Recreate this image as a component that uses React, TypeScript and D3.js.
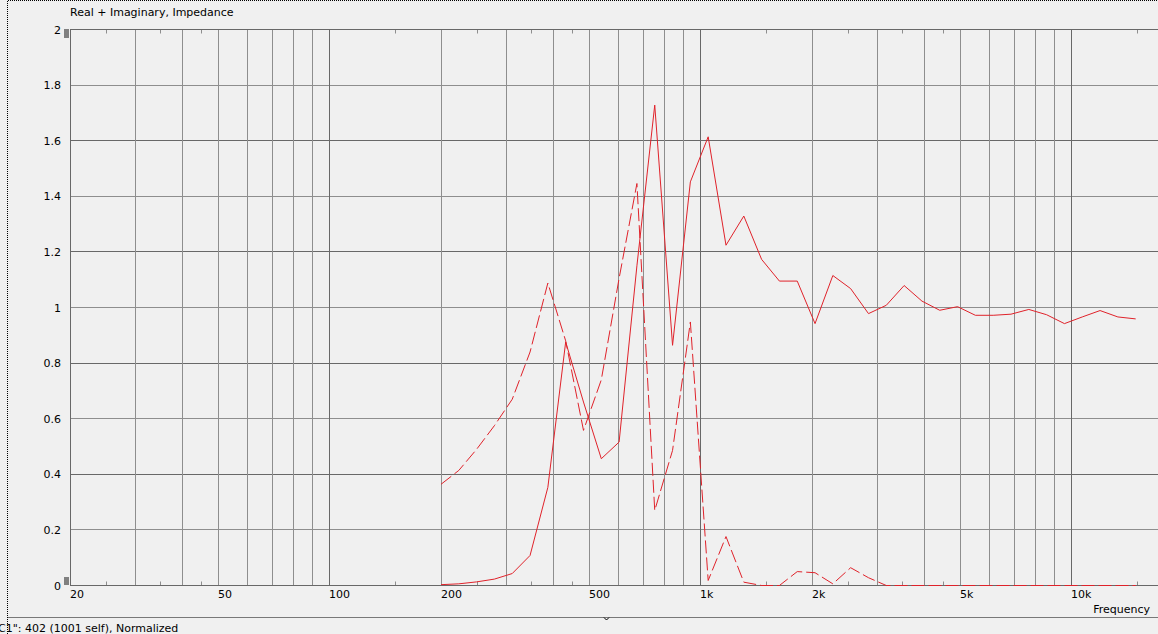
import React from "react";
import * as d3 from "d3";

const FREQS = [
  200, 223.4, 249.5, 278.6, 311.2, 347.6, 388.2, 433.6, 484.3, 540.9,
  604.1, 674.7, 753.6, 841.7, 940.1, 1050, 1172.7, 1309.8, 1462.9, 1633.9,
  1824.9, 2038, 2276, 2542, 2840, 3172, 3543, 3957, 4419, 4936,
  5513, 6157, 6877, 7681, 8579, 9582, 10702, 11953, 13350, 14910,
];

// Real part (solid line)
const REAL = [
  0.003, 0.006, 0.013, 0.023, 0.043, 0.108, 0.353, 0.876, 0.66, 0.456,
  0.516, 1.15, 1.728, 0.864, 1.452, 1.614, 1.224, 1.329, 1.173, 1.095,
  1.095, 0.942, 1.115, 1.068, 0.978, 1.008, 1.079, 1.023, 0.99, 1.003,
  0.972, 0.972, 0.976, 0.993, 0.974, 0.942, 0.966, 0.989, 0.966, 0.959,
];

// Imaginary part (dashed line)
const IMAG = [
  0.364, 0.414, 0.49, 0.575, 0.67, 0.84, 1.088, 0.88, 0.558, 0.74,
  1.105, 1.446, 0.27, 0.486, 0.948, 0.018, 0.176, 0.012, 0, 0,
  0.05, 0.046, 0.006, 0.064, 0.028, 0, 0, 0, 0, 0,
  0, 0, 0, 0, 0, 0, 0, 0, 0, 0,
];

const X_LABELS: [number, string][] = [
  [20, "20"], [50, "50"], [100, "100"], [200, "200"], [500, "500"],
  [1000, "1k"], [2000, "2k"], [5000, "5k"], [10000, "10k"],
];
const Y_TICKS = [0, 0.2, 0.4, 0.6, 0.8, 1, 1.2, 1.4, 1.6, 1.8, 2];
const TITLE = "Real + Imaginary, Impedance";
const X_TITLE = "Frequency";
const STATUS = 'C1": 402 (1001 self), Normalized';

const W = 1158;
const H = 634;
const FONT = "'DejaVu Sans', Verdana, sans-serif";
const RED = "#e0222a";
const DARK = "#686868";
const LIGHT = "#8e8e8e";

export default function App() {
  const x = d3.scaleLog().domain([20, 20000]).range([70, 1183]);
  const y = d3.scaleLinear().domain([0, 2]).range([585.5, 29.5]);
  const px = (f: number) => Math.round(x(f)) + 0.5;

  const gridFreqs: number[] = [];
  [10, 100, 1000, 10000].forEach((dec) => {
    for (let m = 1; m <= 9; m++) {
      const f = dec * m;
      if (f > 20 && f <= 20000) gridFreqs.push(f);
    }
  });
  const minorFreqs: number[] = [];
  [10, 100, 1000, 10000].forEach((dec) => {
    [1.5, 2.5, 3.5, 4.5].forEach((m) => {
      const f = dec * m;
      if (f > 20 && f < 20000) minorFreqs.push(f);
    });
  });

  const line = d3
    .line<number>()
    .x((_, i) => x(FREQS[i]))
    .y((d) => y(d));

  const y0 = y(0);
  const y2 = y(2);

  return (
    <svg
      width={W}
      height={H}
      style={{ position: "absolute", left: 0, top: 0, background: "#f0f0f0" }}
      fontFamily={FONT}
    >
      <rect x={0} y={0} width={W} height={H} fill="#f0f0f0" />
      {/* dotted frame */}
      <path
        d={`M7.5,${H} V0.5 H${W}`}
        fill="none"
        stroke="#000"
        strokeDasharray="1,1"
      />
      <path d={`M7.5,617.5 H${W}`} fill="none" stroke="#000" strokeDasharray="1,1" />
      <path d="M604,617.5 L606.5,620 L609,617.5" fill="none" stroke="#000" />

      <text x={70} y={16} fontSize={11} fill="#000">{TITLE}</text>

      {/* horizontal grid */}
      {Y_TICKS.map((v, i) => (
        <line
          key={"h" + v}
          x1={70}
          x2={W}
          y1={Math.round(y(v) - 0.5) + 0.5}
          y2={Math.round(y(v) - 0.5) + 0.5}
          stroke={i % 2 === 0 ? DARK : LIGHT}
        />
      ))}
      {/* vertical grid */}
      {gridFreqs.map((f) => (
        <line
          key={"v" + f}
          x1={px(f)}
          x2={px(f)}
          y1={y2}
          y2={y0}
          stroke={[100, 1000, 10000].includes(f) ? DARK : LIGHT}
        />
      ))}
      {/* minor ticks */}
      {minorFreqs.map((f) => (
        <g key={"m" + f}>
          <line x1={px(f)} x2={px(f)} y1={y2} y2={y2 + 4} stroke={LIGHT} />
          <line x1={px(f)} x2={px(f)} y1={y0 - 4} y2={y0} stroke={LIGHT} />
        </g>
      ))}
      {/* axis frame */}
      <line x1={70.5} x2={70.5} y1={y2} y2={y0} stroke={DARK} />
      <line x1={70} x2={W} y1={y2} y2={y2} stroke={DARK} />
      <line x1={70} x2={W} y1={y0} y2={y0} stroke={DARK} />

      {/* y labels */}
      {Y_TICKS.map((v) => (
        <text
          key={"yl" + v}
          x={61}
          y={y(v) + 4}
          fontSize={11}
          textAnchor="end"
          fill="#000"
        >
          {String(v)}
        </text>
      ))}
      <rect x={64} y={29} width={5} height={9} fill="#808080" />
      <rect x={64} y={577} width={5} height={8} fill="#808080" />

      {/* x labels */}
      {X_LABELS.map(([f, s]) => (
        <text key={"xl" + f} x={Math.round(x(f))} y={598} fontSize={11} fill="#000">
          {s}
        </text>
      ))}
      <text x={1150} y={613} fontSize={11} textAnchor="end" fill="#000">
        {X_TITLE}
      </text>

      {/* data */}
      <path d={line(IMAG) || ""} fill="none" stroke={RED} strokeWidth={1} strokeDasharray="13,4" />
      <path d={line(REAL) || ""} fill="none" stroke={RED} strokeWidth={1} />

      <text x={-2} y={632} fontSize={11} fill="#000">{STATUS}</text>
    </svg>
  );
}
